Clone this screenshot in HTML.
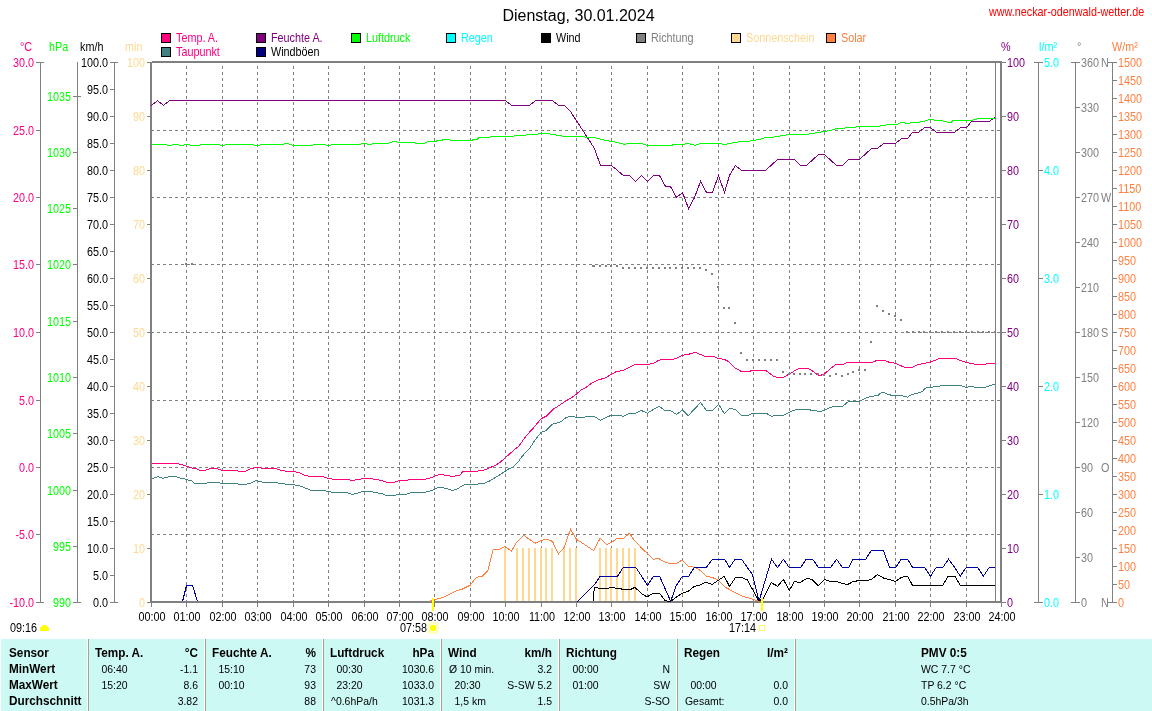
<!DOCTYPE html>
<html><head><meta charset="utf-8"><style>
html,body{margin:0;padding:0;background:#fff;}
svg{display:block;font-family:"Liberation Sans", sans-serif;will-change:transform;}
</style></head><body>
<svg width="1152" height="711" viewBox="0 0 1152 711">
<rect width="1152" height="711" fill="#fff"/>
<text transform="translate(578.5,21)" fill="#000" text-anchor="middle" font-size="16" >Dienstag, 30.01.2024</text>
<text transform="translate(989,16) scale(0.9,1)" fill="#FF0000" text-anchor="start" font-size="12" >www.neckar-odenwald-wetter.de</text>
<rect x="161" y="33" width="10" height="10" fill="#000"/>
<rect x="162" y="34" width="8" height="8" fill="#FF0080"/>
<text transform="translate(176,42) scale(0.9,1)" fill="#FF0080" text-anchor="start" font-size="12" >Temp. A.</text>
<rect x="256" y="33" width="10" height="10" fill="#000"/>
<rect x="257" y="34" width="8" height="8" fill="#800080"/>
<text transform="translate(271,42) scale(0.9,1)" fill="#800080" text-anchor="start" font-size="12" >Feuchte A.</text>
<rect x="351" y="33" width="10" height="10" fill="#000"/>
<rect x="352" y="34" width="8" height="8" fill="#00FF00"/>
<text transform="translate(366,42) scale(0.9,1)" fill="#00FF00" text-anchor="start" font-size="12" >Luftdruck</text>
<rect x="446" y="33" width="10" height="10" fill="#000"/>
<rect x="447" y="34" width="8" height="8" fill="#00FFFF"/>
<text transform="translate(461,42) scale(0.9,1)" fill="#00FFFF" text-anchor="start" font-size="12" >Regen</text>
<rect x="541" y="33" width="10" height="10" fill="#000"/>
<rect x="542" y="34" width="8" height="8" fill="#000000"/>
<text transform="translate(556,42) scale(0.9,1)" fill="#000000" text-anchor="start" font-size="12" >Wind</text>
<rect x="636" y="33" width="10" height="10" fill="#000"/>
<rect x="637" y="34" width="8" height="8" fill="#808080"/>
<text transform="translate(651,42) scale(0.9,1)" fill="#808080" text-anchor="start" font-size="12" >Richtung</text>
<rect x="731" y="33" width="10" height="10" fill="#000"/>
<rect x="732" y="34" width="8" height="8" fill="#FFD890"/>
<text transform="translate(746,42) scale(0.9,1)" fill="#FFD890" text-anchor="start" font-size="12" >Sonnenschein</text>
<rect x="826" y="33" width="10" height="10" fill="#000"/>
<rect x="827" y="34" width="8" height="8" fill="#FF8040"/>
<text transform="translate(841,42) scale(0.9,1)" fill="#FF8040" text-anchor="start" font-size="12" >Solar</text>
<rect x="161" y="47" width="10" height="10" fill="#000"/>
<rect x="162" y="48" width="8" height="8" fill="#408080"/>
<text transform="translate(176,56) scale(0.9,1)" fill="#FF0080" text-anchor="start" font-size="12" >Taupunkt</text>
<rect x="256" y="47" width="10" height="10" fill="#000"/>
<rect x="257" y="48" width="8" height="8" fill="#000080"/>
<text transform="translate(271,56) scale(0.9,1)" fill="#000000" text-anchor="start" font-size="12" >Windböen</text>
<text transform="translate(20,51) scale(0.9,1)" fill="#FF0080" text-anchor="start" font-size="12" >°C</text>
<text transform="translate(49,51) scale(0.9,1)" fill="#00FF00" text-anchor="start" font-size="12" >hPa</text>
<text transform="translate(80,51) scale(0.9,1)" fill="#000" text-anchor="start" font-size="12" >km/h</text>
<text transform="translate(125,51) scale(0.9,1)" fill="#FFD890" text-anchor="start" font-size="12" >min</text>
<text transform="translate(1001,51) scale(0.9,1)" fill="#800080" text-anchor="start" font-size="12" >%</text>
<text transform="translate(1039,51) scale(0.9,1)" fill="#00FFFF" text-anchor="start" font-size="12" >l/m²</text>
<text transform="translate(1077,51) scale(0.9,1)" fill="#808080" text-anchor="start" font-size="12" >°</text>
<text transform="translate(1112,51) scale(0.9,1)" fill="#FF8040" text-anchor="start" font-size="12" >W/m²</text>
<rect x="40" y="62" width="1" height="541" fill="#808080"/>
<rect x="36" y="62" width="8" height="1" fill="#808080"/>
<text transform="translate(34,67) scale(0.9,1)" fill="#FF0080" text-anchor="end" font-size="12" >30.0</text>
<rect x="36" y="130" width="5" height="1" fill="#808080"/>
<text transform="translate(34,135) scale(0.9,1)" fill="#FF0080" text-anchor="end" font-size="12" >25.0</text>
<rect x="36" y="197" width="5" height="1" fill="#808080"/>
<text transform="translate(34,202) scale(0.9,1)" fill="#FF0080" text-anchor="end" font-size="12" >20.0</text>
<rect x="36" y="264" width="5" height="1" fill="#808080"/>
<text transform="translate(34,269) scale(0.9,1)" fill="#FF0080" text-anchor="end" font-size="12" >15.0</text>
<rect x="36" y="332" width="5" height="1" fill="#808080"/>
<text transform="translate(34,337) scale(0.9,1)" fill="#FF0080" text-anchor="end" font-size="12" >10.0</text>
<rect x="36" y="400" width="5" height="1" fill="#808080"/>
<text transform="translate(34,405) scale(0.9,1)" fill="#FF0080" text-anchor="end" font-size="12" >5.0</text>
<rect x="36" y="467" width="5" height="1" fill="#808080"/>
<text transform="translate(34,472) scale(0.9,1)" fill="#FF0080" text-anchor="end" font-size="12" >0.0</text>
<rect x="36" y="534" width="5" height="1" fill="#808080"/>
<text transform="translate(34,539) scale(0.9,1)" fill="#FF0080" text-anchor="end" font-size="12" >-5.0</text>
<rect x="36" y="602" width="8" height="1" fill="#808080"/>
<text transform="translate(34,607) scale(0.9,1)" fill="#FF0080" text-anchor="end" font-size="12" >-10.0</text>
<rect x="77" y="62" width="1" height="541" fill="#808080"/>
<rect x="73" y="602" width="8" height="1" fill="#808080"/>
<text transform="translate(71,607) scale(0.9,1)" fill="#00FF00" text-anchor="end" font-size="12" >990</text>
<rect x="73" y="546" width="5" height="1" fill="#808080"/>
<text transform="translate(71,551) scale(0.9,1)" fill="#00FF00" text-anchor="end" font-size="12" >995</text>
<rect x="73" y="490" width="5" height="1" fill="#808080"/>
<text transform="translate(71,495) scale(0.9,1)" fill="#00FF00" text-anchor="end" font-size="12" >1000</text>
<rect x="73" y="433" width="5" height="1" fill="#808080"/>
<text transform="translate(71,438) scale(0.9,1)" fill="#00FF00" text-anchor="end" font-size="12" >1005</text>
<rect x="73" y="377" width="5" height="1" fill="#808080"/>
<text transform="translate(71,382) scale(0.9,1)" fill="#00FF00" text-anchor="end" font-size="12" >1010</text>
<rect x="73" y="321" width="5" height="1" fill="#808080"/>
<text transform="translate(71,326) scale(0.9,1)" fill="#00FF00" text-anchor="end" font-size="12" >1015</text>
<rect x="73" y="264" width="5" height="1" fill="#808080"/>
<text transform="translate(71,269) scale(0.9,1)" fill="#00FF00" text-anchor="end" font-size="12" >1020</text>
<rect x="73" y="208" width="5" height="1" fill="#808080"/>
<text transform="translate(71,213) scale(0.9,1)" fill="#00FF00" text-anchor="end" font-size="12" >1025</text>
<rect x="73" y="152" width="5" height="1" fill="#808080"/>
<text transform="translate(71,157) scale(0.9,1)" fill="#00FF00" text-anchor="end" font-size="12" >1030</text>
<rect x="73" y="96" width="8" height="1" fill="#808080"/>
<text transform="translate(71,101) scale(0.9,1)" fill="#00FF00" text-anchor="end" font-size="12" >1035</text>
<rect x="114" y="62" width="1" height="541" fill="#808080"/>
<rect x="110" y="62" width="8" height="1" fill="#808080"/>
<text transform="translate(108,67) scale(0.9,1)" fill="#000" text-anchor="end" font-size="12" >100.0</text>
<rect x="110" y="89" width="5" height="1" fill="#808080"/>
<text transform="translate(108,94) scale(0.9,1)" fill="#000" text-anchor="end" font-size="12" >95.0</text>
<rect x="110" y="116" width="5" height="1" fill="#808080"/>
<text transform="translate(108,121) scale(0.9,1)" fill="#000" text-anchor="end" font-size="12" >90.0</text>
<rect x="110" y="143" width="5" height="1" fill="#808080"/>
<text transform="translate(108,148) scale(0.9,1)" fill="#000" text-anchor="end" font-size="12" >85.0</text>
<rect x="110" y="170" width="5" height="1" fill="#808080"/>
<text transform="translate(108,175) scale(0.9,1)" fill="#000" text-anchor="end" font-size="12" >80.0</text>
<rect x="110" y="197" width="5" height="1" fill="#808080"/>
<text transform="translate(108,202) scale(0.9,1)" fill="#000" text-anchor="end" font-size="12" >75.0</text>
<rect x="110" y="224" width="5" height="1" fill="#808080"/>
<text transform="translate(108,229) scale(0.9,1)" fill="#000" text-anchor="end" font-size="12" >70.0</text>
<rect x="110" y="251" width="5" height="1" fill="#808080"/>
<text transform="translate(108,256) scale(0.9,1)" fill="#000" text-anchor="end" font-size="12" >65.0</text>
<rect x="110" y="278" width="5" height="1" fill="#808080"/>
<text transform="translate(108,283) scale(0.9,1)" fill="#000" text-anchor="end" font-size="12" >60.0</text>
<rect x="110" y="305" width="5" height="1" fill="#808080"/>
<text transform="translate(108,310) scale(0.9,1)" fill="#000" text-anchor="end" font-size="12" >55.0</text>
<rect x="110" y="332" width="5" height="1" fill="#808080"/>
<text transform="translate(108,337) scale(0.9,1)" fill="#000" text-anchor="end" font-size="12" >50.0</text>
<rect x="110" y="359" width="5" height="1" fill="#808080"/>
<text transform="translate(108,364) scale(0.9,1)" fill="#000" text-anchor="end" font-size="12" >45.0</text>
<rect x="110" y="386" width="5" height="1" fill="#808080"/>
<text transform="translate(108,391) scale(0.9,1)" fill="#000" text-anchor="end" font-size="12" >40.0</text>
<rect x="110" y="413" width="5" height="1" fill="#808080"/>
<text transform="translate(108,418) scale(0.9,1)" fill="#000" text-anchor="end" font-size="12" >35.0</text>
<rect x="110" y="440" width="5" height="1" fill="#808080"/>
<text transform="translate(108,445) scale(0.9,1)" fill="#000" text-anchor="end" font-size="12" >30.0</text>
<rect x="110" y="467" width="5" height="1" fill="#808080"/>
<text transform="translate(108,472) scale(0.9,1)" fill="#000" text-anchor="end" font-size="12" >25.0</text>
<rect x="110" y="494" width="5" height="1" fill="#808080"/>
<text transform="translate(108,499) scale(0.9,1)" fill="#000" text-anchor="end" font-size="12" >20.0</text>
<rect x="110" y="521" width="5" height="1" fill="#808080"/>
<text transform="translate(108,526) scale(0.9,1)" fill="#000" text-anchor="end" font-size="12" >15.0</text>
<rect x="110" y="548" width="5" height="1" fill="#808080"/>
<text transform="translate(108,553) scale(0.9,1)" fill="#000" text-anchor="end" font-size="12" >10.0</text>
<rect x="110" y="575" width="5" height="1" fill="#808080"/>
<text transform="translate(108,580) scale(0.9,1)" fill="#000" text-anchor="end" font-size="12" >5.0</text>
<rect x="110" y="602" width="8" height="1" fill="#808080"/>
<text transform="translate(108,607) scale(0.9,1)" fill="#000" text-anchor="end" font-size="12" >0.0</text>
<rect x="147" y="62" width="4" height="1" fill="#808080"/>
<text transform="translate(145,67) scale(0.9,1)" fill="#FFD890" text-anchor="end" font-size="12" >100</text>
<rect x="147" y="116" width="4" height="1" fill="#808080"/>
<text transform="translate(145,121) scale(0.9,1)" fill="#FFD890" text-anchor="end" font-size="12" >90</text>
<rect x="147" y="170" width="4" height="1" fill="#808080"/>
<text transform="translate(145,175) scale(0.9,1)" fill="#FFD890" text-anchor="end" font-size="12" >80</text>
<rect x="147" y="224" width="4" height="1" fill="#808080"/>
<text transform="translate(145,229) scale(0.9,1)" fill="#FFD890" text-anchor="end" font-size="12" >70</text>
<rect x="147" y="278" width="4" height="1" fill="#808080"/>
<text transform="translate(145,283) scale(0.9,1)" fill="#FFD890" text-anchor="end" font-size="12" >60</text>
<rect x="147" y="332" width="4" height="1" fill="#808080"/>
<text transform="translate(145,337) scale(0.9,1)" fill="#FFD890" text-anchor="end" font-size="12" >50</text>
<rect x="147" y="386" width="4" height="1" fill="#808080"/>
<text transform="translate(145,391) scale(0.9,1)" fill="#FFD890" text-anchor="end" font-size="12" >40</text>
<rect x="147" y="440" width="4" height="1" fill="#808080"/>
<text transform="translate(145,445) scale(0.9,1)" fill="#FFD890" text-anchor="end" font-size="12" >30</text>
<rect x="147" y="494" width="4" height="1" fill="#808080"/>
<text transform="translate(145,499) scale(0.9,1)" fill="#FFD890" text-anchor="end" font-size="12" >20</text>
<rect x="147" y="548" width="4" height="1" fill="#808080"/>
<text transform="translate(145,553) scale(0.9,1)" fill="#FFD890" text-anchor="end" font-size="12" >10</text>
<rect x="147" y="602" width="4" height="1" fill="#808080"/>
<text transform="translate(145,607) scale(0.9,1)" fill="#FFD890" text-anchor="end" font-size="12" >0</text>
<rect x="1002" y="62" width="4" height="1" fill="#808080"/>
<text transform="translate(1007,67) scale(0.9,1)" fill="#800080" text-anchor="start" font-size="12" >100</text>
<rect x="1002" y="116" width="4" height="1" fill="#808080"/>
<text transform="translate(1007,121) scale(0.9,1)" fill="#800080" text-anchor="start" font-size="12" >90</text>
<rect x="1002" y="170" width="4" height="1" fill="#808080"/>
<text transform="translate(1007,175) scale(0.9,1)" fill="#800080" text-anchor="start" font-size="12" >80</text>
<rect x="1002" y="224" width="4" height="1" fill="#808080"/>
<text transform="translate(1007,229) scale(0.9,1)" fill="#800080" text-anchor="start" font-size="12" >70</text>
<rect x="1002" y="278" width="4" height="1" fill="#808080"/>
<text transform="translate(1007,283) scale(0.9,1)" fill="#800080" text-anchor="start" font-size="12" >60</text>
<rect x="1002" y="332" width="4" height="1" fill="#808080"/>
<text transform="translate(1007,337) scale(0.9,1)" fill="#800080" text-anchor="start" font-size="12" >50</text>
<rect x="1002" y="386" width="4" height="1" fill="#808080"/>
<text transform="translate(1007,391) scale(0.9,1)" fill="#800080" text-anchor="start" font-size="12" >40</text>
<rect x="1002" y="440" width="4" height="1" fill="#808080"/>
<text transform="translate(1007,445) scale(0.9,1)" fill="#800080" text-anchor="start" font-size="12" >30</text>
<rect x="1002" y="494" width="4" height="1" fill="#808080"/>
<text transform="translate(1007,499) scale(0.9,1)" fill="#800080" text-anchor="start" font-size="12" >20</text>
<rect x="1002" y="548" width="4" height="1" fill="#808080"/>
<text transform="translate(1007,553) scale(0.9,1)" fill="#800080" text-anchor="start" font-size="12" >10</text>
<rect x="1002" y="602" width="4" height="1" fill="#808080"/>
<text transform="translate(1007,607) scale(0.9,1)" fill="#800080" text-anchor="start" font-size="12" >0</text>
<rect x="1038" y="62" width="1" height="541" fill="#808080"/>
<rect x="1034" y="62" width="9" height="1" fill="#808080"/>
<text transform="translate(1044,67) scale(0.9,1)" fill="#00FFFF" text-anchor="start" font-size="12" >5.0</text>
<rect x="1038" y="170" width="5" height="1" fill="#808080"/>
<text transform="translate(1044,175) scale(0.9,1)" fill="#00FFFF" text-anchor="start" font-size="12" >4.0</text>
<rect x="1038" y="278" width="5" height="1" fill="#808080"/>
<text transform="translate(1044,283) scale(0.9,1)" fill="#00FFFF" text-anchor="start" font-size="12" >3.0</text>
<rect x="1038" y="386" width="5" height="1" fill="#808080"/>
<text transform="translate(1044,391) scale(0.9,1)" fill="#00FFFF" text-anchor="start" font-size="12" >2.0</text>
<rect x="1038" y="494" width="5" height="1" fill="#808080"/>
<text transform="translate(1044,499) scale(0.9,1)" fill="#00FFFF" text-anchor="start" font-size="12" >1.0</text>
<rect x="1034" y="602" width="9" height="1" fill="#808080"/>
<text transform="translate(1044,607) scale(0.9,1)" fill="#00FFFF" text-anchor="start" font-size="12" >0.0</text>
<rect x="1075" y="62" width="1" height="541" fill="#808080"/>
<rect x="1071" y="62" width="9" height="1" fill="#808080"/>
<text transform="translate(1081,67) scale(0.9,1)" fill="#808080" text-anchor="start" font-size="12" >360</text>
<rect x="1075" y="107" width="5" height="1" fill="#808080"/>
<text transform="translate(1081,112) scale(0.9,1)" fill="#808080" text-anchor="start" font-size="12" >330</text>
<rect x="1075" y="152" width="5" height="1" fill="#808080"/>
<text transform="translate(1081,157) scale(0.9,1)" fill="#808080" text-anchor="start" font-size="12" >300</text>
<rect x="1075" y="197" width="5" height="1" fill="#808080"/>
<text transform="translate(1081,202) scale(0.9,1)" fill="#808080" text-anchor="start" font-size="12" >270</text>
<rect x="1075" y="242" width="5" height="1" fill="#808080"/>
<text transform="translate(1081,247) scale(0.9,1)" fill="#808080" text-anchor="start" font-size="12" >240</text>
<rect x="1075" y="287" width="5" height="1" fill="#808080"/>
<text transform="translate(1081,292) scale(0.9,1)" fill="#808080" text-anchor="start" font-size="12" >210</text>
<rect x="1075" y="332" width="5" height="1" fill="#808080"/>
<text transform="translate(1081,337) scale(0.9,1)" fill="#808080" text-anchor="start" font-size="12" >180</text>
<rect x="1075" y="377" width="5" height="1" fill="#808080"/>
<text transform="translate(1081,382) scale(0.9,1)" fill="#808080" text-anchor="start" font-size="12" >150</text>
<rect x="1075" y="422" width="5" height="1" fill="#808080"/>
<text transform="translate(1081,427) scale(0.9,1)" fill="#808080" text-anchor="start" font-size="12" >120</text>
<rect x="1075" y="467" width="5" height="1" fill="#808080"/>
<text transform="translate(1081,472) scale(0.9,1)" fill="#808080" text-anchor="start" font-size="12" >90</text>
<rect x="1075" y="512" width="5" height="1" fill="#808080"/>
<text transform="translate(1081,517) scale(0.9,1)" fill="#808080" text-anchor="start" font-size="12" >60</text>
<rect x="1075" y="557" width="5" height="1" fill="#808080"/>
<text transform="translate(1081,562) scale(0.9,1)" fill="#808080" text-anchor="start" font-size="12" >30</text>
<rect x="1071" y="602" width="9" height="1" fill="#808080"/>
<text transform="translate(1081,607) scale(0.9,1)" fill="#808080" text-anchor="start" font-size="12" >0</text>
<text transform="translate(1101,67) scale(0.9,1)" fill="#808080" text-anchor="start" font-size="12" >N</text>
<text transform="translate(1101,202) scale(0.9,1)" fill="#808080" text-anchor="start" font-size="12" >W</text>
<text transform="translate(1101,337) scale(0.9,1)" fill="#808080" text-anchor="start" font-size="12" >S</text>
<text transform="translate(1101,472) scale(0.9,1)" fill="#808080" text-anchor="start" font-size="12" >O</text>
<text transform="translate(1101,607) scale(0.9,1)" fill="#808080" text-anchor="start" font-size="12" >N</text>
<rect x="1112" y="62" width="1" height="541" fill="#808080"/>
<rect x="1108" y="62" width="9" height="1" fill="#808080"/>
<text transform="translate(1118,67) scale(0.9,1)" fill="#FF8040" text-anchor="start" font-size="12" >1500</text>
<rect x="1112" y="80" width="5" height="1" fill="#808080"/>
<text transform="translate(1118,85) scale(0.9,1)" fill="#FF8040" text-anchor="start" font-size="12" >1450</text>
<rect x="1112" y="98" width="5" height="1" fill="#808080"/>
<text transform="translate(1118,103) scale(0.9,1)" fill="#FF8040" text-anchor="start" font-size="12" >1400</text>
<rect x="1112" y="116" width="5" height="1" fill="#808080"/>
<text transform="translate(1118,121) scale(0.9,1)" fill="#FF8040" text-anchor="start" font-size="12" >1350</text>
<rect x="1112" y="134" width="5" height="1" fill="#808080"/>
<text transform="translate(1118,139) scale(0.9,1)" fill="#FF8040" text-anchor="start" font-size="12" >1300</text>
<rect x="1112" y="152" width="5" height="1" fill="#808080"/>
<text transform="translate(1118,157) scale(0.9,1)" fill="#FF8040" text-anchor="start" font-size="12" >1250</text>
<rect x="1112" y="170" width="5" height="1" fill="#808080"/>
<text transform="translate(1118,175) scale(0.9,1)" fill="#FF8040" text-anchor="start" font-size="12" >1200</text>
<rect x="1112" y="188" width="5" height="1" fill="#808080"/>
<text transform="translate(1118,193) scale(0.9,1)" fill="#FF8040" text-anchor="start" font-size="12" >1150</text>
<rect x="1112" y="206" width="5" height="1" fill="#808080"/>
<text transform="translate(1118,211) scale(0.9,1)" fill="#FF8040" text-anchor="start" font-size="12" >1100</text>
<rect x="1112" y="224" width="5" height="1" fill="#808080"/>
<text transform="translate(1118,229) scale(0.9,1)" fill="#FF8040" text-anchor="start" font-size="12" >1050</text>
<rect x="1112" y="242" width="5" height="1" fill="#808080"/>
<text transform="translate(1118,247) scale(0.9,1)" fill="#FF8040" text-anchor="start" font-size="12" >1000</text>
<rect x="1112" y="260" width="5" height="1" fill="#808080"/>
<text transform="translate(1118,265) scale(0.9,1)" fill="#FF8040" text-anchor="start" font-size="12" >950</text>
<rect x="1112" y="278" width="5" height="1" fill="#808080"/>
<text transform="translate(1118,283) scale(0.9,1)" fill="#FF8040" text-anchor="start" font-size="12" >900</text>
<rect x="1112" y="296" width="5" height="1" fill="#808080"/>
<text transform="translate(1118,301) scale(0.9,1)" fill="#FF8040" text-anchor="start" font-size="12" >850</text>
<rect x="1112" y="314" width="5" height="1" fill="#808080"/>
<text transform="translate(1118,319) scale(0.9,1)" fill="#FF8040" text-anchor="start" font-size="12" >800</text>
<rect x="1112" y="332" width="5" height="1" fill="#808080"/>
<text transform="translate(1118,337) scale(0.9,1)" fill="#FF8040" text-anchor="start" font-size="12" >750</text>
<rect x="1112" y="350" width="5" height="1" fill="#808080"/>
<text transform="translate(1118,355) scale(0.9,1)" fill="#FF8040" text-anchor="start" font-size="12" >700</text>
<rect x="1112" y="368" width="5" height="1" fill="#808080"/>
<text transform="translate(1118,373) scale(0.9,1)" fill="#FF8040" text-anchor="start" font-size="12" >650</text>
<rect x="1112" y="386" width="5" height="1" fill="#808080"/>
<text transform="translate(1118,391) scale(0.9,1)" fill="#FF8040" text-anchor="start" font-size="12" >600</text>
<rect x="1112" y="404" width="5" height="1" fill="#808080"/>
<text transform="translate(1118,409) scale(0.9,1)" fill="#FF8040" text-anchor="start" font-size="12" >550</text>
<rect x="1112" y="422" width="5" height="1" fill="#808080"/>
<text transform="translate(1118,427) scale(0.9,1)" fill="#FF8040" text-anchor="start" font-size="12" >500</text>
<rect x="1112" y="440" width="5" height="1" fill="#808080"/>
<text transform="translate(1118,445) scale(0.9,1)" fill="#FF8040" text-anchor="start" font-size="12" >450</text>
<rect x="1112" y="458" width="5" height="1" fill="#808080"/>
<text transform="translate(1118,463) scale(0.9,1)" fill="#FF8040" text-anchor="start" font-size="12" >400</text>
<rect x="1112" y="476" width="5" height="1" fill="#808080"/>
<text transform="translate(1118,481) scale(0.9,1)" fill="#FF8040" text-anchor="start" font-size="12" >350</text>
<rect x="1112" y="494" width="5" height="1" fill="#808080"/>
<text transform="translate(1118,499) scale(0.9,1)" fill="#FF8040" text-anchor="start" font-size="12" >300</text>
<rect x="1112" y="512" width="5" height="1" fill="#808080"/>
<text transform="translate(1118,517) scale(0.9,1)" fill="#FF8040" text-anchor="start" font-size="12" >250</text>
<rect x="1112" y="530" width="5" height="1" fill="#808080"/>
<text transform="translate(1118,535) scale(0.9,1)" fill="#FF8040" text-anchor="start" font-size="12" >200</text>
<rect x="1112" y="548" width="5" height="1" fill="#808080"/>
<text transform="translate(1118,553) scale(0.9,1)" fill="#FF8040" text-anchor="start" font-size="12" >150</text>
<rect x="1112" y="566" width="5" height="1" fill="#808080"/>
<text transform="translate(1118,571) scale(0.9,1)" fill="#FF8040" text-anchor="start" font-size="12" >100</text>
<rect x="1112" y="584" width="5" height="1" fill="#808080"/>
<text transform="translate(1118,589) scale(0.9,1)" fill="#FF8040" text-anchor="start" font-size="12" >50</text>
<rect x="1108" y="602" width="9" height="1" fill="#808080"/>
<text transform="translate(1118,607) scale(0.9,1)" fill="#FF8040" text-anchor="start" font-size="12" >0</text>
<line x1="186.5" y1="66" x2="186.5" y2="601" stroke="#808080" stroke-width="1" stroke-dasharray="3 3"/>
<line x1="222.5" y1="66" x2="222.5" y2="601" stroke="#808080" stroke-width="1" stroke-dasharray="3 3"/>
<line x1="257.5" y1="66" x2="257.5" y2="601" stroke="#808080" stroke-width="1" stroke-dasharray="3 3"/>
<line x1="293.5" y1="66" x2="293.5" y2="601" stroke="#808080" stroke-width="1" stroke-dasharray="3 3"/>
<line x1="328.5" y1="66" x2="328.5" y2="601" stroke="#808080" stroke-width="1" stroke-dasharray="3 3"/>
<line x1="364.5" y1="66" x2="364.5" y2="601" stroke="#808080" stroke-width="1" stroke-dasharray="3 3"/>
<line x1="399.5" y1="66" x2="399.5" y2="601" stroke="#808080" stroke-width="1" stroke-dasharray="3 3"/>
<line x1="434.5" y1="66" x2="434.5" y2="601" stroke="#808080" stroke-width="1" stroke-dasharray="3 3"/>
<line x1="470.5" y1="66" x2="470.5" y2="601" stroke="#808080" stroke-width="1" stroke-dasharray="3 3"/>
<line x1="505.5" y1="66" x2="505.5" y2="601" stroke="#808080" stroke-width="1" stroke-dasharray="3 3"/>
<line x1="541.5" y1="66" x2="541.5" y2="601" stroke="#808080" stroke-width="1" stroke-dasharray="3 3"/>
<line x1="576.5" y1="66" x2="576.5" y2="601" stroke="#808080" stroke-width="1" stroke-dasharray="3 3"/>
<line x1="611.5" y1="66" x2="611.5" y2="601" stroke="#808080" stroke-width="1" stroke-dasharray="3 3"/>
<line x1="647.5" y1="66" x2="647.5" y2="601" stroke="#808080" stroke-width="1" stroke-dasharray="3 3"/>
<line x1="682.5" y1="66" x2="682.5" y2="601" stroke="#808080" stroke-width="1" stroke-dasharray="3 3"/>
<line x1="718.5" y1="66" x2="718.5" y2="601" stroke="#808080" stroke-width="1" stroke-dasharray="3 3"/>
<line x1="753.5" y1="66" x2="753.5" y2="601" stroke="#808080" stroke-width="1" stroke-dasharray="3 3"/>
<line x1="789.5" y1="66" x2="789.5" y2="601" stroke="#808080" stroke-width="1" stroke-dasharray="3 3"/>
<line x1="824.5" y1="66" x2="824.5" y2="601" stroke="#808080" stroke-width="1" stroke-dasharray="3 3"/>
<line x1="859.5" y1="66" x2="859.5" y2="601" stroke="#808080" stroke-width="1" stroke-dasharray="3 3"/>
<line x1="895.5" y1="66" x2="895.5" y2="601" stroke="#808080" stroke-width="1" stroke-dasharray="3 3"/>
<line x1="930.5" y1="66" x2="930.5" y2="601" stroke="#808080" stroke-width="1" stroke-dasharray="3 3"/>
<line x1="966.5" y1="66" x2="966.5" y2="601" stroke="#808080" stroke-width="1" stroke-dasharray="3 3"/>
<line x1="151" y1="130.5" x2="1000" y2="130.5" stroke="#808080" stroke-width="1" stroke-dasharray="3 3"/>
<line x1="151" y1="197.5" x2="1000" y2="197.5" stroke="#808080" stroke-width="1" stroke-dasharray="3 3"/>
<line x1="151" y1="264.5" x2="1000" y2="264.5" stroke="#808080" stroke-width="1" stroke-dasharray="3 3"/>
<line x1="151" y1="332.5" x2="1000" y2="332.5" stroke="#808080" stroke-width="1" stroke-dasharray="3 3"/>
<line x1="151" y1="400.5" x2="1000" y2="400.5" stroke="#808080" stroke-width="1" stroke-dasharray="3 3"/>
<line x1="151" y1="467.5" x2="1000" y2="467.5" stroke="#808080" stroke-width="1" stroke-dasharray="3 3"/>
<line x1="151" y1="534.5" x2="1000" y2="534.5" stroke="#808080" stroke-width="1" stroke-dasharray="3 3"/>
<rect x="151" y="603" width="1" height="4" fill="#808080"/>
<text transform="translate(152,621) scale(0.9,1)" fill="#000" text-anchor="middle" font-size="12" >00:00</text>
<rect x="186" y="603" width="1" height="4" fill="#808080"/>
<text transform="translate(187,621) scale(0.9,1)" fill="#000" text-anchor="middle" font-size="12" >01:00</text>
<rect x="222" y="603" width="1" height="4" fill="#808080"/>
<text transform="translate(223,621) scale(0.9,1)" fill="#000" text-anchor="middle" font-size="12" >02:00</text>
<rect x="257" y="603" width="1" height="4" fill="#808080"/>
<text transform="translate(258,621) scale(0.9,1)" fill="#000" text-anchor="middle" font-size="12" >03:00</text>
<rect x="293" y="603" width="1" height="4" fill="#808080"/>
<text transform="translate(294,621) scale(0.9,1)" fill="#000" text-anchor="middle" font-size="12" >04:00</text>
<rect x="328" y="603" width="1" height="4" fill="#808080"/>
<text transform="translate(329,621) scale(0.9,1)" fill="#000" text-anchor="middle" font-size="12" >05:00</text>
<rect x="364" y="603" width="1" height="4" fill="#808080"/>
<text transform="translate(365,621) scale(0.9,1)" fill="#000" text-anchor="middle" font-size="12" >06:00</text>
<rect x="399" y="603" width="1" height="4" fill="#808080"/>
<text transform="translate(400,621) scale(0.9,1)" fill="#000" text-anchor="middle" font-size="12" >07:00</text>
<rect x="434" y="603" width="1" height="4" fill="#808080"/>
<text transform="translate(435,621) scale(0.9,1)" fill="#000" text-anchor="middle" font-size="12" >08:00</text>
<rect x="470" y="603" width="1" height="4" fill="#808080"/>
<text transform="translate(471,621) scale(0.9,1)" fill="#000" text-anchor="middle" font-size="12" >09:00</text>
<rect x="505" y="603" width="1" height="4" fill="#808080"/>
<text transform="translate(506,621) scale(0.9,1)" fill="#000" text-anchor="middle" font-size="12" >10:00</text>
<rect x="541" y="603" width="1" height="4" fill="#808080"/>
<text transform="translate(542,621) scale(0.9,1)" fill="#000" text-anchor="middle" font-size="12" >11:00</text>
<rect x="576" y="603" width="1" height="4" fill="#808080"/>
<text transform="translate(577,621) scale(0.9,1)" fill="#000" text-anchor="middle" font-size="12" >12:00</text>
<rect x="611" y="603" width="1" height="4" fill="#808080"/>
<text transform="translate(612,621) scale(0.9,1)" fill="#000" text-anchor="middle" font-size="12" >13:00</text>
<rect x="647" y="603" width="1" height="4" fill="#808080"/>
<text transform="translate(648,621) scale(0.9,1)" fill="#000" text-anchor="middle" font-size="12" >14:00</text>
<rect x="682" y="603" width="1" height="4" fill="#808080"/>
<text transform="translate(683,621) scale(0.9,1)" fill="#000" text-anchor="middle" font-size="12" >15:00</text>
<rect x="718" y="603" width="1" height="4" fill="#808080"/>
<text transform="translate(719,621) scale(0.9,1)" fill="#000" text-anchor="middle" font-size="12" >16:00</text>
<rect x="753" y="603" width="1" height="4" fill="#808080"/>
<text transform="translate(754,621) scale(0.9,1)" fill="#000" text-anchor="middle" font-size="12" >17:00</text>
<rect x="789" y="603" width="1" height="4" fill="#808080"/>
<text transform="translate(790,621) scale(0.9,1)" fill="#000" text-anchor="middle" font-size="12" >18:00</text>
<rect x="824" y="603" width="1" height="4" fill="#808080"/>
<text transform="translate(825,621) scale(0.9,1)" fill="#000" text-anchor="middle" font-size="12" >19:00</text>
<rect x="859" y="603" width="1" height="4" fill="#808080"/>
<text transform="translate(860,621) scale(0.9,1)" fill="#000" text-anchor="middle" font-size="12" >20:00</text>
<rect x="895" y="603" width="1" height="4" fill="#808080"/>
<text transform="translate(896,621) scale(0.9,1)" fill="#000" text-anchor="middle" font-size="12" >21:00</text>
<rect x="930" y="603" width="1" height="4" fill="#808080"/>
<text transform="translate(931,621) scale(0.9,1)" fill="#000" text-anchor="middle" font-size="12" >22:00</text>
<rect x="966" y="603" width="1" height="4" fill="#808080"/>
<text transform="translate(967,621) scale(0.9,1)" fill="#000" text-anchor="middle" font-size="12" >23:00</text>
<rect x="1001" y="603" width="1" height="4" fill="#808080"/>
<text transform="translate(1002,621) scale(0.9,1)" fill="#000" text-anchor="middle" font-size="12" >24:00</text>
<rect x="150" y="62" width="2" height="541" fill="#808080"/>
<rect x="152" y="61" width="850" height="2" fill="#808080"/>
<rect x="1000" y="61" width="2" height="542" fill="#808080"/>
<rect x="150" y="601" width="852" height="2" fill="#808080"/>
<rect x="995" y="63" width="1" height="538" fill="#808080"/>
<g shape-rendering="crispEdges">
<rect x="504" y="548" width="2" height="53" fill="#FFD890"/>
<rect x="516" y="548" width="2" height="53" fill="#FFD890"/>
<rect x="522" y="548" width="2" height="53" fill="#FFD890"/>
<rect x="528" y="548" width="2" height="53" fill="#FFD890"/>
<rect x="534" y="548" width="2" height="53" fill="#FFD890"/>
<rect x="540" y="548" width="2" height="53" fill="#FFD890"/>
<rect x="545" y="548" width="2" height="53" fill="#FFD890"/>
<rect x="551" y="548" width="2" height="53" fill="#FFD890"/>
<rect x="563" y="548" width="2" height="53" fill="#FFD890"/>
<rect x="569" y="548" width="2" height="53" fill="#FFD890"/>
<rect x="575" y="548" width="2" height="53" fill="#FFD890"/>
<rect x="599" y="548" width="2" height="53" fill="#FFD890"/>
<rect x="605" y="548" width="2" height="53" fill="#FFD890"/>
<rect x="610" y="548" width="2" height="53" fill="#FFD890"/>
<rect x="616" y="548" width="2" height="53" fill="#FFD890"/>
<rect x="622" y="548" width="2" height="53" fill="#FFD890"/>
<rect x="628" y="548" width="2" height="53" fill="#FFD890"/>
<rect x="634" y="548" width="2" height="53" fill="#FFD890"/>
</g>
<g fill="none" stroke-width="1" shape-rendering="crispEdges">
<polyline points="151.5,105.5 157.5,100.5 163.5,105.5 169.5,100.5 505.5,100.5 511.5,105.5 529.5,105.5 535.5,100.5 552.5,100.5 558.5,105.5 564.5,105.5 570.5,111.5 594.5,148.5 600.5,165.5 611.5,165.5 623.5,175.5 629.5,175.5 635.5,181.5 641.5,175.5 647.5,181.5 653.5,175.5 659.5,175.5 665.5,186.5 670.5,186.5 676.5,197.5 682.5,192.5 688.5,208.5 694.5,197.5 700.5,181.5 706.5,192.5 712.5,192.5 718.5,175.5 724.5,192.5 729.5,175.5 735.5,165.5 741.5,170.5 765.5,170.5 777.5,159.5 794.5,159.5 800.5,165.5 806.5,165.5 818.5,154.5 824.5,154.5 836.5,165.5 842.5,165.5 848.5,159.5 859.5,159.5 871.5,148.5 877.5,148.5 883.5,143.5 895.5,143.5 901.5,138.5 907.5,138.5 912.5,132.5 918.5,132.5 924.5,127.5 930.5,127.5 936.5,132.5 954.5,132.5 960.5,127.5 966.5,127.5 971.5,121.5 989.5,121.5 995.5,116.5" fill="none" stroke="#800080" stroke-width="1" stroke-linejoin="miter" />
<polyline points="151.5,144.5 166.5,144.5 167.5,145.5 171.5,145.5 172.5,144.5 178.5,144.5 179.5,145.5 183.5,145.5 184.5,144.5 189.5,144.5 190.5,145.5 199.5,145.5 200.5,144.5 219.5,144.5 220.5,145.5 224.5,145.5 225.5,144.5 253.5,144.5 254.5,145.5 259.5,145.5 260.5,144.5 283.5,144.5 284.5,143.5 288.5,143.5 289.5,144.5 291.5,144.5 292.5,145.5 312.5,145.5 313.5,144.5 325.5,144.5 326.5,145.5 330.5,145.5 331.5,144.5 360.5,144.5 361.5,143.5 366.5,143.5 367.5,144.5 371.5,144.5 372.5,143.5 388.5,143.5 389.5,142.5 391.5,142.5 392.5,141.5 396.5,141.5 397.5,142.5 414.5,142.5 415.5,143.5 424.5,143.5 427.5,141.5 435.5,141.5 437.5,140.5 441.5,140.5 443.5,139.5 449.5,139.5 450.5,140.5 471.5,140.5 473.5,139.5 477.5,139.5 478.5,137.5 489.5,137.5 490.5,136.5 513.5,136.5 514.5,135.5 525.5,135.5 526.5,134.5 537.5,134.5 538.5,133.5 549.5,133.5 550.5,134.5 555.5,134.5 556.5,135.5 561.5,135.5 562.5,136.5 584.5,136.5 585.5,137.5 595.5,137.5 596.5,138.5 599.5,138.5 600.5,139.5 603.5,139.5 604.5,140.5 608.5,140.5 609.5,141.5 614.5,141.5 615.5,142.5 618.5,142.5 619.5,143.5 622.5,143.5 623.5,144.5 625.5,144.5 626.5,143.5 642.5,143.5 643.5,144.5 645.5,144.5 646.5,145.5 671.5,145.5 673.5,144.5 684.5,144.5 685.5,143.5 689.5,143.5 690.5,144.5 693.5,144.5 694.5,145.5 695.5,145.5 696.5,144.5 698.5,144.5 699.5,143.5 721.5,143.5 722.5,144.5 726.5,144.5 727.5,143.5 731.5,143.5 732.5,142.5 737.5,142.5 738.5,141.5 749.5,141.5 750.5,140.5 755.5,140.5 756.5,139.5 760.5,139.5 761.5,138.5 763.5,138.5 764.5,137.5 773.5,137.5 774.5,136.5 779.5,136.5 780.5,135.5 785.5,135.5 786.5,134.5 808.5,134.5 809.5,133.5 814.5,133.5 815.5,132.5 820.5,132.5 821.5,131.5 826.5,131.5 827.5,130.5 831.5,130.5 832.5,129.5 834.5,129.5 835.5,128.5 844.5,128.5 845.5,127.5 855.5,127.5 856.5,126.5 879.5,126.5 880.5,125.5 885.5,125.5 886.5,124.5 897.5,124.5 898.5,123.5 899.5,123.5 900.5,122.5 904.5,122.5 905.5,123.5 909.5,123.5 910.5,122.5 919.5,122.5 920.5,121.5 924.5,121.5 925.5,120.5 927.5,120.5 928.5,119.5 933.5,119.5 934.5,120.5 942.5,120.5 943.5,121.5 946.5,121.5 947.5,122.5 951.5,122.5 952.5,120.5 972.5,120.5 973.5,119.5 976.5,119.5 977.5,118.5 994.5,118.5" fill="none" stroke="#00FF00" stroke-width="1" stroke-linejoin="miter" />
<polyline points="151.5,463.5 178.5,463.5 179.5,464.5 182.5,464.5 183.5,465.5 185.5,465.5 186.5,466.5 188.5,466.5 189.5,467.5 191.5,467.5 192.5,468.5 196.5,468.5 197.5,469.5 198.5,469.5 199.5,470.5 205.5,470.5 206.5,469.5 208.5,469.5 209.5,468.5 217.5,468.5 218.5,469.5 220.5,469.5 221.5,470.5 237.5,470.5 238.5,471.5 245.5,471.5 246.5,470.5 247.5,470.5 248.5,469.5 249.5,469.5 250.5,468.5 253.5,468.5 254.5,467.5 260.5,467.5 261.5,468.5 276.5,468.5 277.5,469.5 279.5,469.5 280.5,470.5 284.5,470.5 285.5,471.5 295.5,471.5 296.5,472.5 299.5,472.5 300.5,473.5 301.5,473.5 302.5,474.5 303.5,474.5 304.5,475.5 307.5,475.5 308.5,476.5 323.5,476.5 324.5,477.5 326.5,477.5 327.5,478.5 331.5,478.5 332.5,479.5 349.5,479.5 350.5,480.5 354.5,480.5 355.5,479.5 360.5,479.5 361.5,478.5 372.5,478.5 373.5,479.5 378.5,479.5 379.5,480.5 382.5,480.5 383.5,481.5 385.5,481.5 386.5,482.5 394.5,482.5 395.5,481.5 397.5,481.5 398.5,480.5 407.5,480.5 408.5,479.5 425.5,479.5 426.5,478.5 429.5,478.5 430.5,477.5 432.5,477.5 433.5,476.5 434.5,476.5 435.5,475.5 437.5,475.5 438.5,474.5 443.5,474.5 444.5,475.5 449.5,475.5 450.5,476.5 454.5,476.5 455.5,475.5 459.5,475.5 460.5,474.5 460.5,474.5 461.5,473.5 461.5,473.5 462.5,471.5 477.5,471.5 478.5,470.5 483.5,470.5 484.5,469.5 486.5,469.5 487.5,468.5 488.5,468.5 489.5,467.5 490.5,467.5 495.0,465.4 499.7,462.7 504.2,458.8 514.8,449.3 518.5,446.7 526.4,435.6 532.2,429.3 538.5,421.9 541.1,418.7 546.4,416.1 553.3,409.2 559.1,405.5 565.4,401.3 570.0,398.6 575.2,395.1 581.3,389.9 587.4,386.5 591.3,383.4 598.6,379.5 603.9,378.6 610.8,374.7 616.0,371.7 623.0,370.4 634.2,364.8 648.6,364.3 653.3,363.5 658.5,360.4 662.4,359.1 672.8,359.3 676.3,358.5 682.4,355.2 689.3,354.1 694.5,352.4 696.3,352.8 704.9,356.3 713.6,356.3 718.0,358.5 724.0,359.3 728.4,361.5 735.3,368.0 741.4,371.5 749.6,371.5 751.0,370.6 765.6,370.4 773.0,376.0 776.5,377.3 783.4,377.3 789.5,373.9 794.7,370.8 799.5,368.2 807.3,368.2 812.1,370.8 818.2,375.2 820.8,375.2 824.2,374.3 831.2,367.8 836.4,364.3 843.3,364.3 847.7,362.3 872.6,362.3 877.0,360.3 884.6,360.3 888.4,362.0 892.8,362.6 896.5,363.8 904.7,367.4 912.3,367.4 917.9,364.5 925.5,363.2 930.5,362.0 939.3,358.6 955.7,358.6 959.5,360.1 967.0,362.6 974.6,364.1 985.9,364.1 988.4,363.2 994.7,363.2" fill="none" stroke="#FF0080" stroke-width="1" stroke-linejoin="miter" />
<polyline points="151.5,478.5 153.5,478.5 154.5,477.5 156.5,477.5 157.5,476.5 158.5,476.5 159.5,477.5 161.5,477.5 162.5,478.5 163.5,478.5 164.5,477.5 167.5,477.5 168.5,476.5 176.5,476.5 177.5,477.5 179.5,477.5 180.5,478.5 184.5,478.5 185.5,479.5 187.5,479.5 188.5,480.5 191.5,480.5 192.5,481.5 192.5,481.5 193.5,482.5 193.5,482.5 194.5,483.5 206.5,483.5 207.5,482.5 219.5,482.5 220.5,483.5 237.5,483.5 238.5,484.5 246.5,484.5 247.5,483.5 250.5,483.5 251.5,482.5 252.5,482.5 253.5,481.5 254.5,481.5 255.5,480.5 257.5,480.5 258.5,481.5 261.5,481.5 262.5,482.5 277.5,482.5 278.5,483.5 284.5,483.5 285.5,484.5 294.5,484.5 295.5,485.5 299.5,485.5 300.5,486.5 302.5,486.5 303.5,487.5 304.5,487.5 305.5,488.5 307.5,488.5 308.5,489.5 309.5,489.5 310.5,490.5 325.5,490.5 326.5,491.5 330.5,491.5 331.5,492.5 347.5,492.5 348.5,493.5 350.5,493.5 351.5,494.5 353.5,494.5 354.5,493.5 357.5,493.5 358.5,492.5 360.5,492.5 361.5,491.5 372.5,491.5 373.5,492.5 377.5,492.5 378.5,493.5 382.5,493.5 383.5,494.5 384.5,494.5 385.5,495.5 395.5,495.5 396.5,494.5 406.5,494.5 407.5,493.5 409.5,493.5 410.5,492.5 425.5,492.5 426.5,491.5 429.5,491.5 430.5,490.5 432.5,490.5 433.5,489.5 434.5,489.5 435.5,488.5 436.5,488.5 437.5,487.5 443.5,487.5 444.5,488.5 447.5,488.5 448.5,489.5 450.5,489.5 451.5,490.5 453.5,490.5 454.5,489.5 456.5,489.5 457.5,488.5 458.5,488.5 459.5,487.5 459.5,487.5 460.5,486.5 461.5,486.5 462.5,485.5 463.5,485.5 464.5,484.5 477.5,484.5 478.5,483.5 484.5,483.5 485.5,482.5 486.5,482.5 487.5,481.5 488.5,481.5 494.0,478.4 501.0,474.1 505.3,471.1 508.8,468.9 512.7,467.3 518.5,461.5 522.2,456.2 530.1,447.7 534.8,440.4 541.1,432.4 546.4,430.3 552.7,424.0 557.5,423.0 561.2,421.4 565.9,417.7 569.6,416.4 573.8,416.4 575.4,417.2 584.4,417.2 586.0,416.4 594.4,416.4 596.7,418.0 600.4,420.3 605.4,417.6 611.1,415.4 620.6,415.4 622.8,416.5 628.9,413.4 635.4,413.4 641.4,410.5 647.5,413.2 654.9,408.5 659.2,406.3 664.9,410.5 670.5,410.5 676.6,414.5 682.5,409.9 688.3,415.7 697.4,405.9 700.4,402.4 706.5,410.5 712.4,410.5 718.6,404.4 724.3,413.4 729.5,408.5 735.1,409.3 741.2,415.4 748.6,415.4 752.5,413.4 766.4,413.4 772.0,416.5 774.6,415.4 783.3,415.4 788.6,412.5 793.4,410.6 797.7,409.3 809.2,409.3 811.1,410.4 815.8,410.4 817.3,411.3 820.6,411.3 824.4,410.4 829.7,407.5 833.5,406.5 842.6,406.5 848.3,401.5 859.3,401.5 864.6,398.6 870.0,396.5 873.6,396.5 874.5,395.5 877.8,395.5 880.0,393.5 882.0,392.5 884.6,392.5 886.0,393.5 888.0,394.5 893.0,395.5 902.8,395.5 903.5,396.5 906.0,396.5 907.5,397.5 908.5,396.5 912.0,394.5 916.0,393.5 920.0,392.5 922.5,391.5 925.0,388.5 927.0,387.5 932.6,387.5 933.5,386.5 939.0,386.5 940.6,385.5 960.7,385.5 965.8,387.4 970.8,386.5 975.8,387.4 984.6,387.4 994.7,384.2" fill="none" stroke="#408080" stroke-width="1" stroke-linejoin="miter" />
<polyline points="430.3,601.1 436.5,599.2 442.7,597.4 447.6,595.4 457.8,590.3 462.2,589.2 470.2,585.2 476.4,577.2 482.1,576.3 487.9,570.6 493.2,549.3 499.4,549.3 505.2,546.4 511.5,551.2 516.2,542.7 523.7,535.3 528.8,538.8 535.0,543.2 541.2,540.4 545.9,539.3 550.6,540.4 552.6,541.7 558.4,554.0 563.9,547.8 570.5,529.4 576.4,539.2 593.6,550.5 600.2,538.2 606.8,544.6 612.4,541.7 617.2,538.3 623.5,538.3 629.4,533.3 633.9,539.9 638.4,544.4 643.6,550.3 647.8,553.5 653.3,559.4 658.2,558.3 663.8,561.5 668.3,563.2 676.1,563.4 682.2,560.1 688.2,566.2 694.3,567.3 699.5,569.9 706.5,576.3 712.5,577.5 718.6,580.3 724.7,587.0 730.8,590.3 736.8,593.4 742.9,596.4 749.0,598.1 755.0,599.9 759.0,601.2" fill="none" stroke="#FF8040" stroke-width="1" stroke-linejoin="miter" />
<polyline points="182.5,601.5 186.5,585.5 192.5,585.5 197.5,601.5" fill="none" stroke="#0000A0" stroke-width="1" stroke-linejoin="miter" />
<polyline points="577.2,601.7 594.1,585.2 600.2,576.3 617.5,576.3 623.2,567.4 635.8,567.4 647.5,585.2 653.6,576.3 659.6,576.3 670.7,601.2 676.1,586.0 682.2,576.4 688.7,576.4 694.3,567.3 706.5,567.3 712.5,559.3 724.7,559.3 729.5,567.3 735.1,559.3 741.6,559.3 752.5,574.7 759.0,601.2 771.5,559.3 777.6,567.5 783.4,559.3 789.3,567.5 800.6,567.5 806.2,559.3 812.7,559.3 818.4,567.5 830.5,567.5 836.6,559.3 842.3,567.5 848.8,567.5 853.1,559.3 865.6,559.3 871.3,550.4 883.4,550.4 889.5,567.4 895.6,567.4 901.2,559.3 907.7,559.3 912.5,567.4 924.7,567.4 930.4,576.3 936.2,567.4 942.8,567.4 948.5,559.3 954.8,567.4 960.2,576.3 966.2,567.4 977.6,567.4 983.4,576.3 989.2,567.4 995.0,567.4" fill="none" stroke="#0000A0" stroke-width="1" stroke-linejoin="miter" />
<polyline points="593.2,601.5 593.4,594.7 594.5,587.6 597.6,587.6 598.4,588.2 608.9,588.2 609.7,587.3 614.1,587.6 615.8,588.2 621.0,588.6 622.3,589.5 630.6,589.5 634.9,587.3 641.8,593.9 647.0,596.9 653.1,593.4 659.6,593.4 665.3,600.8 670.5,601.5 678.7,595.5 683.0,592.9 688.2,591.2 694.3,586.4 699.5,585.3 706.0,582.1 712.1,584.4 724.3,576.3 729.5,586.4 735.5,577.5 742.0,577.5 747.3,579.9 759.0,601.2 763.8,597.7 771.1,582.7 777.6,586.2 783.4,579.4 789.3,590.5 794.5,581.4 799.7,582.7 806.7,578.4 811.9,579.4 818.4,585.8 824.5,579.4 829.7,581.4 836.2,581.4 842.3,583.6 847.5,584.5 853.5,581.4 862.6,580.2 867.8,580.2 871.7,579.3 877.4,574.5 883.4,578.0 888.6,579.3 895.4,581.5 901.2,577.6 905.1,576.3 907.7,576.3 912.5,585.4 942.8,585.2 948.2,576.3 954.8,576.3 960.2,585.2 995.0,585.2" fill="none" stroke="#000" stroke-width="1" stroke-linejoin="miter" />
</g>
<g shape-rendering="crispEdges">
<rect x="185" y="263" width="2" height="2" fill="#808080"/>
<rect x="191" y="263" width="2" height="2" fill="#808080"/>
<rect x="592" y="265" width="2" height="2" fill="#808080"/>
<rect x="593" y="265" width="2" height="2" fill="#808080"/>
<rect x="599" y="265" width="2" height="2" fill="#808080"/>
<rect x="605" y="265" width="2" height="2" fill="#808080"/>
<rect x="610" y="265" width="2" height="2" fill="#808080"/>
<rect x="616" y="265" width="2" height="2" fill="#808080"/>
<rect x="622" y="267" width="2" height="2" fill="#808080"/>
<rect x="628" y="267" width="2" height="2" fill="#808080"/>
<rect x="634" y="267" width="2" height="2" fill="#808080"/>
<rect x="640" y="267" width="2" height="2" fill="#808080"/>
<rect x="646" y="267" width="2" height="2" fill="#808080"/>
<rect x="652" y="267" width="2" height="2" fill="#808080"/>
<rect x="658" y="267" width="2" height="2" fill="#808080"/>
<rect x="664" y="267" width="2" height="2" fill="#808080"/>
<rect x="669" y="267" width="2" height="2" fill="#808080"/>
<rect x="675" y="267" width="2" height="2" fill="#808080"/>
<rect x="681" y="267" width="2" height="2" fill="#808080"/>
<rect x="687" y="267" width="2" height="2" fill="#808080"/>
<rect x="693" y="267" width="2" height="2" fill="#808080"/>
<rect x="699" y="267" width="2" height="2" fill="#808080"/>
<rect x="705" y="269" width="2" height="2" fill="#808080"/>
<rect x="711" y="273" width="2" height="2" fill="#808080"/>
<rect x="717" y="286" width="2" height="2" fill="#808080"/>
<rect x="723" y="307" width="2" height="2" fill="#808080"/>
<rect x="728" y="307" width="2" height="2" fill="#808080"/>
<rect x="734" y="322" width="2" height="2" fill="#808080"/>
<rect x="740" y="352" width="2" height="2" fill="#808080"/>
<rect x="746" y="359" width="2" height="2" fill="#808080"/>
<rect x="752" y="359" width="2" height="2" fill="#808080"/>
<rect x="758" y="359" width="2" height="2" fill="#808080"/>
<rect x="764" y="359" width="2" height="2" fill="#808080"/>
<rect x="770" y="359" width="2" height="2" fill="#808080"/>
<rect x="776" y="359" width="2" height="2" fill="#808080"/>
<rect x="782" y="371" width="2" height="2" fill="#808080"/>
<rect x="788" y="373" width="2" height="2" fill="#808080"/>
<rect x="793" y="373" width="2" height="2" fill="#808080"/>
<rect x="799" y="373" width="2" height="2" fill="#808080"/>
<rect x="804" y="373" width="2" height="2" fill="#808080"/>
<rect x="810" y="373" width="2" height="2" fill="#808080"/>
<rect x="817" y="373" width="2" height="2" fill="#808080"/>
<rect x="823" y="374" width="2" height="2" fill="#808080"/>
<rect x="829" y="375" width="2" height="2" fill="#808080"/>
<rect x="835" y="373" width="2" height="2" fill="#808080"/>
<rect x="841" y="375" width="2" height="2" fill="#808080"/>
<rect x="847" y="373" width="2" height="2" fill="#808080"/>
<rect x="852" y="371" width="2" height="2" fill="#808080"/>
<rect x="858" y="369" width="2" height="2" fill="#808080"/>
<rect x="864" y="369" width="2" height="2" fill="#808080"/>
<rect x="870" y="341" width="2" height="2" fill="#808080"/>
<rect x="876" y="305" width="2" height="2" fill="#808080"/>
<rect x="882" y="310" width="2" height="2" fill="#808080"/>
<rect x="888" y="313" width="2" height="2" fill="#808080"/>
<rect x="894" y="315" width="2" height="2" fill="#808080"/>
<rect x="900" y="319" width="2" height="2" fill="#808080"/>
<rect x="906" y="331" width="2" height="2" fill="#808080"/>
<rect x="912" y="331" width="2" height="2" fill="#808080"/>
<rect x="918" y="331" width="2" height="2" fill="#808080"/>
<rect x="923" y="331" width="2" height="2" fill="#808080"/>
<rect x="929" y="331" width="2" height="2" fill="#808080"/>
<rect x="935" y="331" width="2" height="2" fill="#808080"/>
<rect x="941" y="331" width="2" height="2" fill="#808080"/>
<rect x="947" y="331" width="2" height="2" fill="#808080"/>
<rect x="953" y="331" width="2" height="2" fill="#808080"/>
<rect x="959" y="331" width="2" height="2" fill="#808080"/>
<rect x="965" y="331" width="2" height="2" fill="#808080"/>
<rect x="971" y="331" width="2" height="2" fill="#808080"/>
<rect x="977" y="331" width="2" height="2" fill="#808080"/>
<rect x="982" y="331" width="2" height="2" fill="#808080"/>
<rect x="988" y="331" width="2" height="2" fill="#808080"/>
<rect x="994" y="331" width="2" height="2" fill="#808080"/>
</g>
<rect x="432" y="598" width="2" height="13" fill="#FFFF00"/>
<rect x="761" y="598" width="2" height="13" fill="#FFFF00"/>
<text transform="translate(400,632) scale(0.9,1)" fill="#000" text-anchor="start" font-size="12" >07:58</text>
<circle cx="433" cy="628" r="5.3" fill="none" stroke="#FFFFA8" stroke-width="1.3"/>
<g stroke="#FFFF90" stroke-width="1.2"><line x1="428" y1="623" x2="430.5" y2="625.5"/><line x1="438" y1="623" x2="435.5" y2="625.5"/><line x1="428" y1="633" x2="430.5" y2="630.5"/><line x1="438" y1="633" x2="435.5" y2="630.5"/></g>
<circle cx="433" cy="628" r="3.2" fill="#FFFF00"/>
<text transform="translate(729,632) scale(0.9,1)" fill="#000" text-anchor="start" font-size="12" >17:14</text>
<rect x="759.5" y="625.5" width="5" height="5" fill="none" stroke="#FFFF60" stroke-width="1"/>
<text transform="translate(10,632) scale(0.9,1)" fill="#000" text-anchor="start" font-size="12" >09:16</text>
<path d="M40,631 L40,628 L41,627 L42,626 L44,625 L46,625 L47,626 L48,627 L49,628 L49,631 Z" fill="#FFFF00"/>
<rect x="1" y="639" width="1151" height="72" fill="#CDF9F5"/>
<rect x="87" y="639" width="1" height="72" fill="#FFFFFF"/>
<rect x="88" y="639" width="1" height="72" fill="#A8A090"/>
<rect x="204" y="639" width="1" height="72" fill="#FFFFFF"/>
<rect x="205" y="639" width="1" height="72" fill="#A8A090"/>
<rect x="322" y="639" width="1" height="72" fill="#FFFFFF"/>
<rect x="323" y="639" width="1" height="72" fill="#A8A090"/>
<rect x="440" y="639" width="1" height="72" fill="#FFFFFF"/>
<rect x="441" y="639" width="1" height="72" fill="#A8A090"/>
<rect x="558" y="639" width="1" height="72" fill="#FFFFFF"/>
<rect x="559" y="639" width="1" height="72" fill="#A8A090"/>
<rect x="676" y="639" width="1" height="72" fill="#FFFFFF"/>
<rect x="677" y="639" width="1" height="72" fill="#A8A090"/>
<rect x="794" y="639" width="1" height="72" fill="#FFFFFF"/>
<rect x="795" y="639" width="1" height="72" fill="#A8A090"/>
<text transform="translate(9,657) scale(0.98,1)" fill="#000" text-anchor="start" font-size="12" font-weight="bold" >Sensor</text>
<text transform="translate(9,673) scale(0.98,1)" fill="#000" text-anchor="start" font-size="12" font-weight="bold" >MinWert</text>
<text transform="translate(9,689) scale(0.98,1)" fill="#000" text-anchor="start" font-size="12" font-weight="bold" >MaxWert</text>
<text transform="translate(9,705) scale(0.98,1)" fill="#000" text-anchor="start" font-size="12" font-weight="bold" >Durchschnitt</text>
<text transform="translate(95,657) scale(0.98,1)" fill="#000" text-anchor="start" font-size="12" font-weight="bold" >Temp. A.</text>
<text transform="translate(198,657) scale(0.98,1)" fill="#000" text-anchor="end" font-size="12" font-weight="bold" >°C</text>
<text transform="translate(101.5,673) scale(0.95,1)" fill="#000" text-anchor="start" font-size="11" >06:40</text>
<text transform="translate(198,673) scale(0.95,1)" fill="#000" text-anchor="end" font-size="11" >-1.1</text>
<text transform="translate(101.5,689) scale(0.95,1)" fill="#000" text-anchor="start" font-size="11" >15:20</text>
<text transform="translate(198,689) scale(0.95,1)" fill="#000" text-anchor="end" font-size="11" >8.6</text>
<text transform="translate(198,705) scale(0.95,1)" fill="#000" text-anchor="end" font-size="11" >3.82</text>
<text transform="translate(212,657) scale(0.98,1)" fill="#000" text-anchor="start" font-size="12" font-weight="bold" >Feuchte A.</text>
<text transform="translate(316,657) scale(0.98,1)" fill="#000" text-anchor="end" font-size="12" font-weight="bold" >%</text>
<text transform="translate(218.5,673) scale(0.95,1)" fill="#000" text-anchor="start" font-size="11" >15:10</text>
<text transform="translate(316,673) scale(0.95,1)" fill="#000" text-anchor="end" font-size="11" >73</text>
<text transform="translate(218.5,689) scale(0.95,1)" fill="#000" text-anchor="start" font-size="11" >00:10</text>
<text transform="translate(316,689) scale(0.95,1)" fill="#000" text-anchor="end" font-size="11" >93</text>
<text transform="translate(316,705) scale(0.95,1)" fill="#000" text-anchor="end" font-size="11" >88</text>
<text transform="translate(330,657) scale(0.98,1)" fill="#000" text-anchor="start" font-size="12" font-weight="bold" >Luftdruck</text>
<text transform="translate(434,657) scale(0.98,1)" fill="#000" text-anchor="end" font-size="12" font-weight="bold" >hPa</text>
<text transform="translate(336.5,673) scale(0.95,1)" fill="#000" text-anchor="start" font-size="11" >00:30</text>
<text transform="translate(434,673) scale(0.95,1)" fill="#000" text-anchor="end" font-size="11" >1030.6</text>
<text transform="translate(336.5,689) scale(0.95,1)" fill="#000" text-anchor="start" font-size="11" >23:20</text>
<text transform="translate(434,689) scale(0.95,1)" fill="#000" text-anchor="end" font-size="11" >1033.0</text>
<text transform="translate(331,705) scale(0.95,1)" fill="#000" text-anchor="start" font-size="11" >^0.6hPa/h</text>
<text transform="translate(434,705) scale(0.95,1)" fill="#000" text-anchor="end" font-size="11" >1031.3</text>
<text transform="translate(448,657) scale(0.98,1)" fill="#000" text-anchor="start" font-size="12" font-weight="bold" >Wind</text>
<text transform="translate(552,657) scale(0.98,1)" fill="#000" text-anchor="end" font-size="12" font-weight="bold" >km/h</text>
<text transform="translate(449,673) scale(0.95,1)" fill="#000" text-anchor="start" font-size="11" >Ø 10 min.</text>
<text transform="translate(552,673) scale(0.95,1)" fill="#000" text-anchor="end" font-size="11" >3.2</text>
<text transform="translate(454.5,689) scale(0.95,1)" fill="#000" text-anchor="start" font-size="11" >20:30</text>
<text transform="translate(552,689) scale(0.95,1)" fill="#000" text-anchor="end" font-size="11" >S-SW 5.2</text>
<text transform="translate(454.5,705) scale(0.95,1)" fill="#000" text-anchor="start" font-size="11" >1,5 km</text>
<text transform="translate(552,705) scale(0.95,1)" fill="#000" text-anchor="end" font-size="11" >1.5</text>
<text transform="translate(566,657) scale(0.98,1)" fill="#000" text-anchor="start" font-size="12" font-weight="bold" >Richtung</text>
<text transform="translate(572.5,673) scale(0.95,1)" fill="#000" text-anchor="start" font-size="11" >00:00</text>
<text transform="translate(670,673) scale(0.95,1)" fill="#000" text-anchor="end" font-size="11" >N</text>
<text transform="translate(572.5,689) scale(0.95,1)" fill="#000" text-anchor="start" font-size="11" >01:00</text>
<text transform="translate(670,689) scale(0.95,1)" fill="#000" text-anchor="end" font-size="11" >SW</text>
<text transform="translate(670,705) scale(0.95,1)" fill="#000" text-anchor="end" font-size="11" >S-SO</text>
<text transform="translate(684,657) scale(0.98,1)" fill="#000" text-anchor="start" font-size="12" font-weight="bold" >Regen</text>
<text transform="translate(788,657) scale(0.98,1)" fill="#000" text-anchor="end" font-size="12" font-weight="bold" >l/m²</text>
<text transform="translate(690.5,689) scale(0.95,1)" fill="#000" text-anchor="start" font-size="11" >00:00</text>
<text transform="translate(788,689) scale(0.95,1)" fill="#000" text-anchor="end" font-size="11" >0.0</text>
<text transform="translate(685,705) scale(0.95,1)" fill="#000" text-anchor="start" font-size="11" >Gesamt:</text>
<text transform="translate(788,705) scale(0.95,1)" fill="#000" text-anchor="end" font-size="11" >0.0</text>
<text transform="translate(921,657) scale(0.98,1)" fill="#000" text-anchor="start" font-size="12" font-weight="bold" >PMV 0:5</text>
<text transform="translate(921,673) scale(0.95,1)" fill="#000" text-anchor="start" font-size="11" >WC 7.7 °C</text>
<text transform="translate(921,689) scale(0.95,1)" fill="#000" text-anchor="start" font-size="11" >TP 6.2 °C</text>
<text transform="translate(921,705) scale(0.95,1)" fill="#000" text-anchor="start" font-size="11" >0.5hPa/3h</text>
</svg></body></html>
